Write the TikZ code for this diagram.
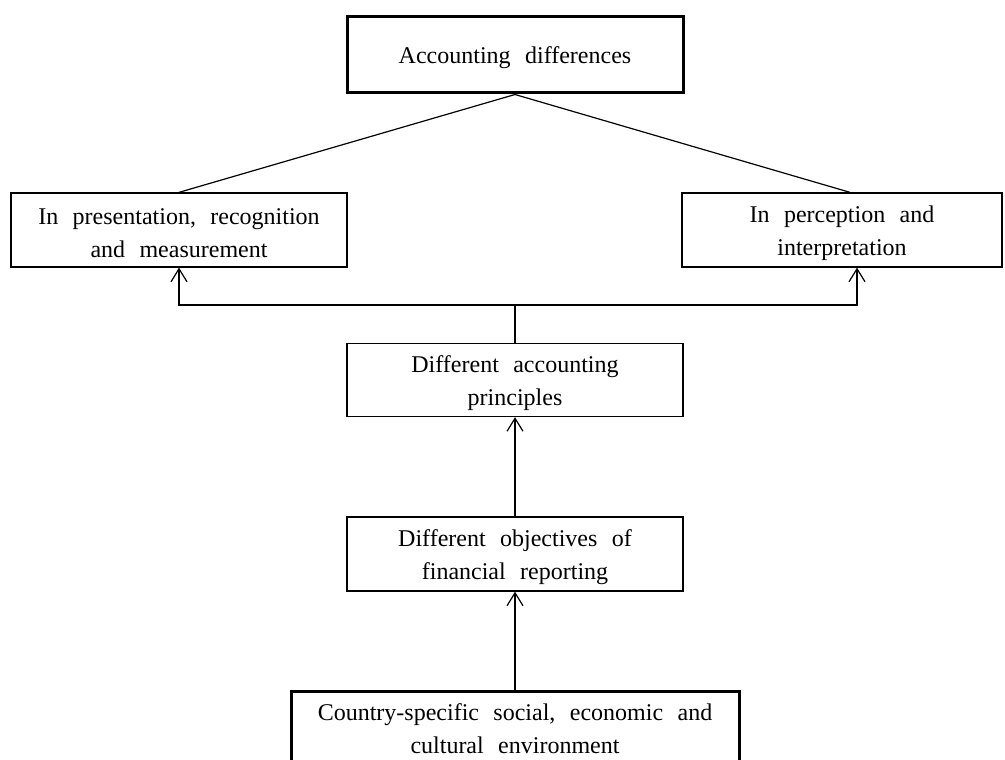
\documentclass[tikz,border=0pt]{standalone}
\usepackage{fontspec}
\setmainfont{Liberation Serif}
\usetikzlibrary{arrows.meta}
% body text of the boxes: wide word gaps
\newcommand\boxtextfont{\fontsize{24}{33}\selectfont\spaceskip 0.6em plus 0.1em\relax}
% invisible strut that pushes a first line down a little
\newcommand\firstline{\rule{0pt}{23pt}}
\begin{document}
\begin{tikzpicture}[x=1pt,y=-1pt,
  box/.style={draw, line width=1.3pt, align=center, inner sep=0pt, font=\boxtextfont},
  keybox/.style={box, line width=3pt},
  link/.style={line width=1.2pt},
  arr/.style={line width=1.2pt, -{Straight Barb[length=13pt,width=16pt,line width=1.2pt]}}]
\useasboundingbox (0,0) rectangle (1005,760);
\clip (0,0) rectangle (1005,760);

% boxes
\node[keybox, minimum width=336pt, minimum height=76pt] (acc) at (515,55) {\firstline Accounting differences};
\node[box, minimum width=336pt, minimum height=74pt] (pres) at (179,230) {\firstline In presentation, recognition\\and measurement};
\node[box, minimum width=320pt, minimum height=74pt] (perc) at (842,230) {\firstline In perception and\\interpretation};
\node[box, minimum width=336pt, minimum height=73pt] (prin) at (515,380) {\firstline Different accounting\\principles};
\node[box, minimum width=336pt, minimum height=74pt] (obj) at (515,554) {\firstline Different objectives of\\financial reporting};
\node[keybox, minimum width=448pt, minimum height=76pt] (env) at (515,729) {Country-specific social, economic and\\cultural environment};

% split of the top box
\draw[link] (acc.south) -- (pres.north);
\draw[link] (acc.south) -- ([xshift=8pt]perc.north);

% principles feed both kinds of difference
\coordinate (fork) at (515,305);
\draw[link] (prin.north) -- (fork);
\draw[arr] (fork) -| (pres.south);
\draw[arr] (fork) -| ([xshift=15pt]perc.south);

% causal chain from the bottom
\draw[arr] (obj.north) -- (prin.south);
\draw[arr] (env.north) -- (obj.south);
\end{tikzpicture}
\end{document}
